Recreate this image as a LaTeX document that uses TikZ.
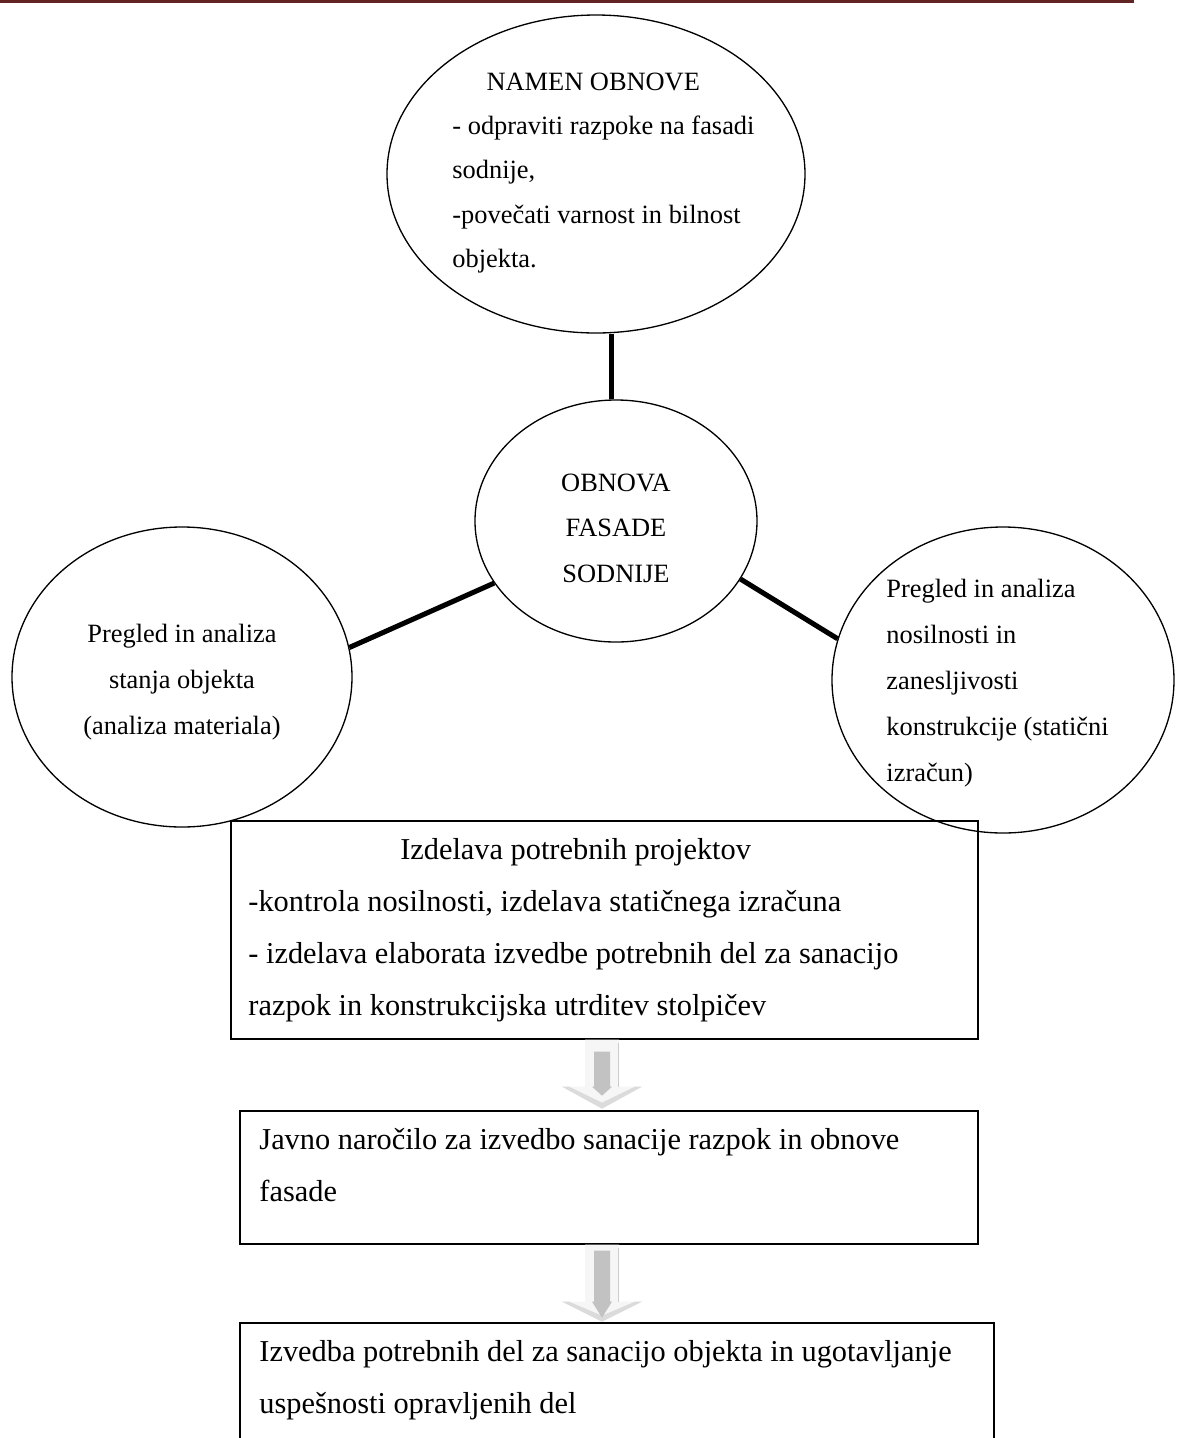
\documentclass[tikz,border=0pt]{standalone}
\usepackage{fontspec}
\setmainfont{Liberation Serif}
\usetikzlibrary{shapes.geometric,calc}
\definecolor{hdr}{HTML}{622423}
\begin{document}
\begin{tikzpicture}[x=0.4545pt,y=-0.4545pt,
  ell/.style={draw, ellipse, line width=0.6pt, inner sep=0pt},
  conn/.style={line width=2.3pt},
  boxst/.style={draw, rectangle, line width=0.75pt, inner sep=0pt, anchor=north west},
  etxt/.style={inner sep=0pt, font=\fontsize{12}{20.9}\selectfont},
  btxt/.style={inner sep=0pt, anchor=base west, align=left, font=\fontsize{13.8}{23.5}\selectfont},
  pics/blockarrow/.style n args={4}{code={
    \fill[gray!7] (-17,0) -- (-17,#1) -- (-40,#1) -- (0,#2) -- (40,#1) -- (17,#1) -- (17,0) -- cycle;
    \fill[gray!28] (-40,#1) -- (0,#2) -- (40,#1) -- (33,#1) -- (0,#2-6) -- (-33,#1) -- cycle;
    \draw[gray!40, line width=0.4pt] (16,3) -- (16,#1);
    \fill[gray!48] (-8,#4) -- (-8,#1) -- (-10,#1) -- (0,#3) -- (10,#1) -- (8,#1) -- (8,#4) -- cycle;
  }}
]
\useasboundingbox (0,0) rectangle (1183,1438);
\clip (0,0) rectangle (1183,1438);
\fill[hdr] (0,0) rectangle (1134,3);

% ellipses
\node[ell, minimum width={418*0.4545pt}, minimum height={318*0.4545pt}] (goal) at (596,174) {};
\node[ell, minimum width={282*0.4545pt}, minimum height={242*0.4545pt}] (core) at (616,521) {};
\node[ell, minimum width={340*0.4545pt}, minimum height={300*0.4545pt}] (left) at (182,677) {};
\node[ell, minimum width={342*0.4545pt}, minimum height={306*0.4545pt}] (right) at (1003,680) {};

% ellipse texts (base anchor = baseline of the last line)
\node[etxt, anchor=base west, align=left, font=\fontsize{12}{20}\selectfont] (goalt) at (452,267)
  {\hspace*{15.5pt}NAMEN OBNOVE\\- odpraviti razpoke na fasadi\\sodnije,\\-povečati varnost in bilnost\\objekta.};
\node[etxt, anchor=base, align=center, font=\fontsize{12}{20.5}\selectfont] (coret) at (616,582)
  {OBNOVA\\FASADE\\SODNIJE};
\node[etxt, anchor=base, align=center] (leftt) at (182,734)
  {Pregled in analiza\\stanja objekta\\(analiza materiala)};
\node[etxt, anchor=base west, align=left] (rightt) at (886,781)
  {Pregled in analiza\\nosilnosti in\\zanesljivosti\\konstrukcije (statični\\izračun)};

% connectors
\draw[conn] (core.92) -- (core.92 |- goal.south);
\draw[conn] (core.207) -- (left.10);
\draw[conn] (core.-25) -- (right.166);

% boxes
\node[boxst, minimum width={747*0.4545pt}, minimum height={218*0.4545pt}] (b1) at (230,820) {};
\node[boxst, minimum width={738*0.4545pt}, minimum height={133*0.4545pt}] (b2) at (239,1110) {};
\node[boxst, minimum width={754*0.4545pt}, minimum height={200*0.4545pt}] (b3) at (239,1322) {};

\node[btxt] (b1t) at (248,1015)
  {\hspace*{69pt}Izdelava potrebnih projektov\\-kontrola nosilnosti, izdelava statičnega izračuna\\- izdelava elaborata izvedbe potrebnih del za sanacijo\\razpok in konstrukcijska utrditev stolpičev};
\node[btxt] (b2t) at (259,1201)
  {Javno naročilo za izvedbo sanacije razpok in obnove\\fasade};
\node[btxt] (b3t) at (259,1413)
  {Izvedba potrebnih del za sanacijo objekta in ugotavljanje\\uspešnosti opravljenih del};

% block arrows
\coordinate (a1) at (b1.south -| 602,0);
\coordinate (a2) at (b2.south -| 602,0);
\pic at (a1) {blockarrow={47}{69}{56}{12}};
\pic at (a2) {blockarrow={57}{77}{73}{6}};
\end{tikzpicture}
\end{document}
